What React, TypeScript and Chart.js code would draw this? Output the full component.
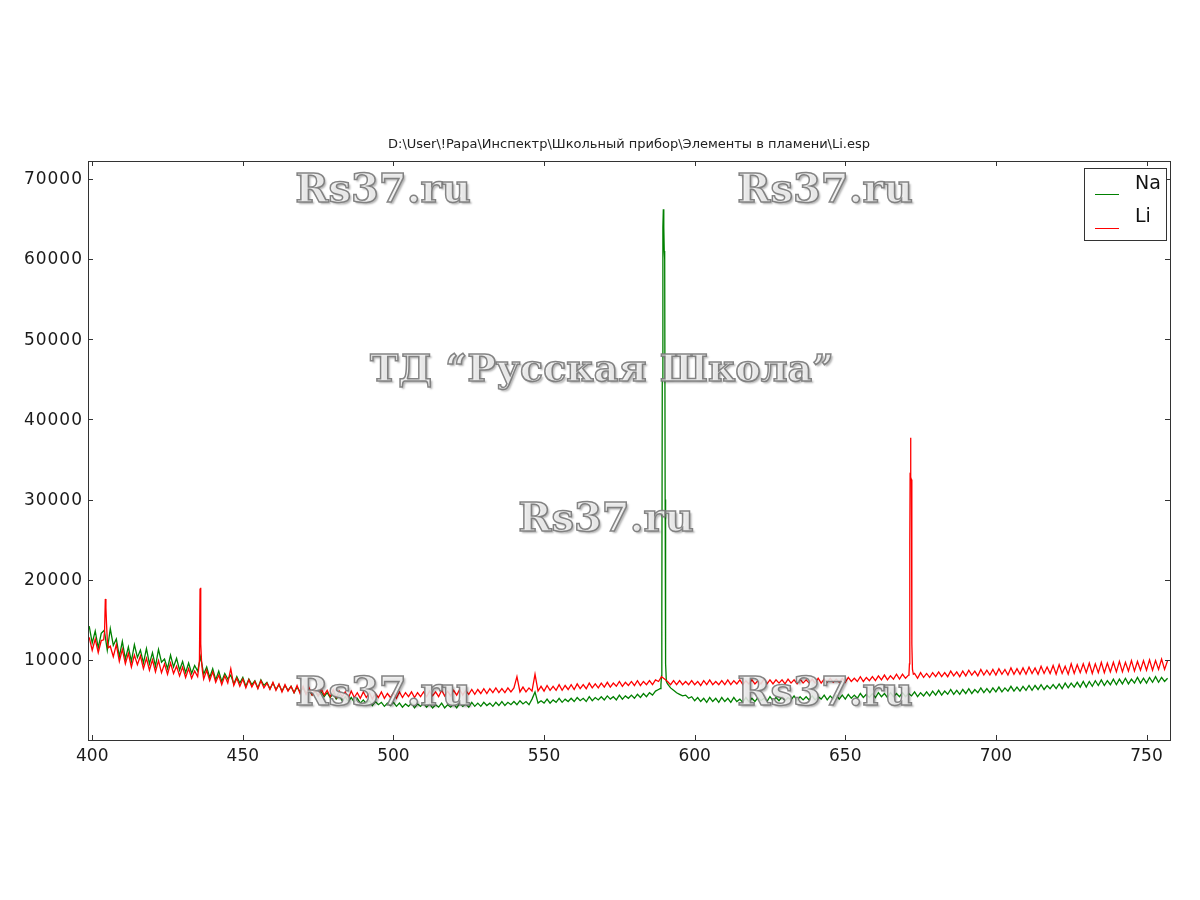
import React, { useEffect, useRef } from "react";
import { Chart, registerables } from "chart.js";

Chart.register(...registerables);

// ---------- text ----------
const TITLE = "D:\\User\\!Papa\\Инспектр\\Школьный прибор\\Элементы в пламени\\Li.esp";
const SERIES_NAMES = ["Na", "Li"];
const WATERMARK_SITE = "Rs37.ru";
const WATERMARK_SHOP = "ТД “Русская Школа”";

// ---------- axes ----------
const X_TICKS = [400, 450, 500, 550, 600, 650, 700, 750];
const Y_TICKS = [10000, 20000, 30000, 40000, 50000, 60000, 70000];
const X_MIN = 398.6;
const X_MAX = 757.8;
const Y_MIN = 0;
const Y_MAX = 72230;

// ---------- baseline spectra, one value per nm starting at 399 nm ----------
const WL_START = 399;
const WL_STEP = 1;

const NA_BASE: (number | null)[] = [
  /*399*/ 14200, 12100, 13600, 11500, 13300, 13700, 11200, 13900, 11800, 12600,
  /*409*/ 10400, 12300, 10100, 11600, 9800, 11900, 10300, 11200, 9600, 11400,
  /*419*/ 9500, 10900, 9200, 11300, 9700, 10100, 8900, 10600, 9100, 10200,
  /*429*/ 8700, 9800, 8400, 9600, 8300, 9300, 8600, 10400, 8200, 9100,
  /*439*/ 7800, 8900, 7500, 8600, 7300, 8300, 7600, 8100, 7000, 7900,
  /*449*/ 7100, 7800, 6700, 7600, 6900, 7400, 6500, 7500, 6800, 7200,
  /*459*/ 6400, 7100, 6300, 6900, 6100, 6800, 6200, 6700, 5900, 6600,
  /*469*/ 6000, 6500, 5800, 6300, 5600, 6100, 5500, 6000, 5400, 5900,
  /*479*/ 5300, 5800, 5100, 5600, 4900, 5400, 4800, 5300, 4700, 5200,
  /*489*/ 4600, 5000, 4500, 4900, 4300, 4800, 4400, 4700, 4200, 4600,
  /*499*/ 4300, 4700, 4200, 4600, 4100, 4500, 4200, 4600, 4000, 4500,
  /*509*/ 4200, 4600, 4100, 4500, 4000, 4400, 4100, 4600, 4000, 4400,
  /*519*/ 4100, 4500, 4000, 4600, 4200, 4500, 4100, 4700, 4200, 4600,
  /*529*/ 4200, 4700, 4300, 4600, 4200, 4700, 4300, 4800, 4300, 4700,
  /*539*/ 4400, 4800, 4400, 4900, 4500, 4800, 4400, 5100, 6000, 4600,
  /*549*/ 4900, 4600, 5100, 4600, 5000, 4700, 5200, 4700, 5100, 4800,
  /*559*/ 5200, 4800, 5300, 4900, 5200, 4800, 5400, 4900, 5300, 5000,
  /*569*/ 5400, 5000, 5500, 5100, 5400, 5000, 5600, 5100, 5500, 5200,
  /*579*/ 5600, 5200, 5700, 5300, 5800, 5400, 5900, 5600, 6100, 6300,
  /*589*/ null, null, 7000, 6500, 6200, 5900, 5700, 5500, 5600, 5200,
  /*599*/ 5400, 4900, 5300, 4800, 5200, 4700, 5300, 4800, 5200, 4700,
  /*609*/ 5300, 4800, 5200, 4700, 5300, 4800, 5100, 4700, 5300, 4800,
  /*619*/ 5200, 4800, 5300, 4900, 5200, 4800, 5400, 4900, 5300, 4900,
  /*629*/ 5400, 4900, 5300, 5000, 5500, 4900, 5400, 5000, 5400, 5000,
  /*639*/ 5500, 5000, 5400, 5100, 5600, 5000, 5500, 5100, 5600, 5100,
  /*649*/ 5600, 5100, 5700, 5200, 5600, 5200, 5800, 5300, 5700, 5300,
  /*659*/ 5800, 5300, 5900, 5400, 5800, 5300, 5900, 5400, 5800, 5400,
  /*669*/ 5900, 5400, 5800, 5500, 6000, 5400, 5900, 5500, 6000, 5500,
  /*679*/ 6100, 5600, 6200, 5600, 6100, 5700, 6300, 5700, 6200, 5700,
  /*689*/ 6300, 5800, 6400, 5800, 6300, 5900, 6500, 5900, 6400, 5900,
  /*699*/ 6500, 6000, 6600, 6000, 6500, 6100, 6700, 6100, 6600, 6100,
  /*709*/ 6700, 6200, 6800, 6200, 6800, 6300, 6900, 6300, 6800, 6400,
  /*719*/ 6900, 6400, 7000, 6400, 7100, 6500, 7100, 6600, 7200, 6600,
  /*729*/ 7300, 6600, 7300, 6700, 7400, 6800, 7500, 6800, 7400, 6900,
  /*739*/ 7600, 6900, 7600, 7000, 7700, 7000, 7600, 7100, 7800, 7100,
  /*749*/ 7700, 7100, 7800, 7200, 7900, 7200, 7800, 7300, 7700,
];

const LI_BASE: (number | null)[] = [
  /*399*/ 12800, 11200, 12600, 10900, 12400, null, null, 11700, 10400, 11900,
  /*409*/ 9800, 11300, 9500, 10800, 9100, 10600, 9400, 10500, 8900, 10200,
  /*419*/ 8700, 10000, 8500, 9900, 8400, 9500, 8200, 9600, 8300, 9200,
  /*429*/ 8000, 9100, 7800, 8900, 7700, 8600, 7900, null, 7600, 8700,
  /*439*/ 7400, 8500, 7200, 8100, 6900, 8000, 7100, 8900, 6800, 7700,
  /*449*/ 6700, 7600, 6500, 7500, 6600, 7300, 6400, 7400, 6500, 7100,
  /*459*/ 6300, 7200, 6200, 7000, 6000, 6900, 6100, 6700, 5900, 6800,
  /*469*/ 5800, 6700, 5700, 6500, 5600, 6300, 5500, 6400, 5600, 6200,
  /*479*/ 5400, 6300, 5300, 6100, 5400, 6000, 5200, 6100, 5300, 5900,
  /*489*/ 5200, 6000, 5300, 5900, 5100, 5800, 5300, 6000, 5200, 5800,
  /*499*/ 5300, 5900, 5200, 6000, 5300, 5900, 5400, 6000, 5300, 5900,
  /*509*/ 5400, 6000, 5400, 6100, 5500, 6000, 5400, 6200, 5500, 6100,
  /*519*/ 5500, 6200, 5600, 6300, 5600, 6200, 5700, 6300, 5700, 6300,
  /*529*/ 5800, 6400, 5800, 6400, 5900, 6500, 5900, 6400, 5900, 6500,
  /*539*/ 6000, 6500, 7900, 6000, 6600, 6000, 6500, 6100, 8200, 6100,
  /*549*/ 6700, 6100, 6800, 6200, 6700, 6200, 6900, 6200, 6800, 6300,
  /*559*/ 6900, 6300, 7000, 6400, 6900, 6400, 7100, 6500, 7000, 6500,
  /*569*/ 7100, 6600, 7200, 6600, 7100, 6700, 7300, 6700, 7200, 6800,
  /*579*/ 7300, 6800, 7400, 6800, 7300, 6900, 7400, 6900, 7500, 7300,
  /*589*/ 7900, 7600, 7300, 6900, 7400, 6900, 7400, 6900, 7300, 6900,
  /*599*/ 7400, 6900, 7300, 6800, 7400, 6900, 7500, 6900, 7300, 6900,
  /*609*/ 7400, 6900, 7500, 6900, 7400, 7000, 7500, 6900, 7400, 7000,
  /*619*/ 7500, 7000, 7400, 7000, 7600, 7000, 7500, 7000, 7500, 7100,
  /*629*/ 7500, 7000, 7600, 7100, 7500, 7000, 7600, 7100, 7500, 7100,
  /*639*/ 7600, 7100, 7700, 7100, 7600, 7200, 7700, 7200, 7600, 7200,
  /*649*/ 7700, 7200, 7800, 7300, 7700, 7300, 7900, 7300, 7800, 7400,
  /*659*/ 7900, 7400, 8000, 7500, 8100, 7500, 8000, 7600, 8200, 7600,
  /*669*/ 8200, 7700, 8100, null, 8300, 7700, 8400, 7800, 8300, 7800,
  /*679*/ 8400, 7900, 8500, 7900, 8400, 7900, 8600, 8000, 8500, 7900,
  /*689*/ 8600, 8000, 8700, 8100, 8600, 8000, 8800, 8100, 8700, 8100,
  /*699*/ 8800, 8100, 8900, 8200, 8800, 8100, 9000, 8200, 8900, 8200,
  /*709*/ 9000, 8200, 9100, 8300, 9000, 8200, 9200, 8300, 9100, 8300,
  /*719*/ 9300, 8200, 9400, 8300, 9200, 8200, 9500, 8300, 9400, 8400,
  /*729*/ 9500, 8400, 9600, 8300, 9500, 8400, 9700, 8400, 9600, 8500,
  /*739*/ 9700, 8500, 9800, 8500, 9700, 8600, 9900, 8600, 9800, 8700,
  /*749*/ 9900, 8700, 10000, 8700, 9900, 8800, 10100, 8800, 9900,
];

// ---------- emission lines, sampled finer ----------
const NA_D_X = [588.5, 588.8, 589.0, 589.1, 589.25, 589.45, 589.6, 589.75, 589.9, 590.05, 590.2, 590.35, 590.6];
const NA_D_Y = [6400, 6900, 8000, 16000, 45000, 64000, 66200, 64000, 61000, 60000, 30000, 9500, 7300];

const LI_K_X = [403.8, 404.1, 404.35, 404.55, 404.75, 405.0, 405.3];
const LI_K_Y = [12500, 13500, 17600, 16500, 14500, 12500, 11500];

const LI_HG_X = [435.3, 435.6, 435.8, 435.95, 436.1, 436.3, 436.6];
const LI_HG_Y = [8800, 10000, 18900, 19000, 12000, 9800, 8600];

const LI_LINE_X = [671.15, 671.3, 671.42, 671.52, 671.65, 671.8, 671.95, 672.1, 672.3, 672.6];
const LI_LINE_Y = [8300, 9500, 24500, 33000, 37700, 32800, 32500, 12000, 8800, 8200];

const NA_COLOR = "#008000";
const LI_COLOR = "#ff0000";

type Pt = { x: number; y: number };

function buildSeries(base: (number | null)[], lines: [number[], number[]][]): Pt[] {
  const pts: Pt[] = [];
  base.forEach((v, i) => {
    if (v !== null) pts.push({ x: WL_START + i * WL_STEP, y: v });
  });
  lines.forEach(([xs, ys]) => {
    xs.forEach((x, i) => pts.push({ x, y: ys[i] }));
  });
  pts.sort((a, b) => a.x - b.x);
  return pts;
}

const decorPlugin = {
  id: "decor",
  afterDatasetsDraw(chart: any) {
    const { ctx, chartArea } = chart;
    const { left, right, top, bottom } = chartArea;
    const xs = chart.scales.x;
    const ys = chart.scales.y;
    ctx.save();

    // watermarks
    const drawMark = (text: string, cx: number, cy: number, size: number) => {
      ctx.save();
      ctx.font = `bold ${size}px 'DejaVu Serif'`;
      ctx.textAlign = "center";
      ctx.textBaseline = "middle";
      ctx.shadowColor = "rgba(0,0,0,0.35)";
      ctx.shadowOffsetX = 2;
      ctx.shadowOffsetY = 2;
      ctx.shadowBlur = 2;
      ctx.fillStyle = "rgba(240,240,240,0.85)";
      ctx.fillText(text, cx, cy);
      ctx.shadowColor = "transparent";
      ctx.lineWidth = 1.5;
      ctx.strokeStyle = "rgba(120,120,120,0.9)";
      ctx.strokeText(text, cx, cy);
      ctx.restore();
    };
    drawMark(WATERMARK_SITE, 383, 192, 40);
    drawMark(WATERMARK_SITE, 825, 192, 40);
    drawMark(WATERMARK_SHOP, 602, 371, 38);
    drawMark(WATERMARK_SITE, 606, 521, 40);
    drawMark(WATERMARK_SITE, 383, 695, 40);
    drawMark(WATERMARK_SITE, 825, 695, 40);

    // frame
    ctx.strokeStyle = "#333333";
    ctx.lineWidth = 1;
    ctx.strokeRect(Math.round(left) + 0.5, Math.round(top) + 0.5, Math.round(right - left), Math.round(bottom - top));

    // ticks
    const TL = 5;
    ctx.beginPath();
    X_TICKS.forEach((v) => {
      const px = Math.round(xs.getPixelForValue(v)) + 0.5;
      ctx.moveTo(px, bottom);
      ctx.lineTo(px, bottom - TL);
      ctx.moveTo(px, top);
      ctx.lineTo(px, top + TL);
    });
    Y_TICKS.forEach((v) => {
      const py = Math.round(ys.getPixelForValue(v)) + 0.5;
      ctx.moveTo(left, py);
      ctx.lineTo(left + TL, py);
      ctx.moveTo(right, py);
      ctx.lineTo(right - TL, py);
    });
    ctx.stroke();

    // tick labels
    ctx.fillStyle = "#1a1a1a";
    ctx.font = "17px 'DejaVu Sans'";
    ctx.textAlign = "center";
    ctx.textBaseline = "alphabetic";
    X_TICKS.forEach((v) => {
      ctx.fillText(String(v), xs.getPixelForValue(v), bottom + 21);
    });
    ctx.font = "17px 'DejaVu Sans'";
    (ctx as any).letterSpacing = "1px";
    ctx.textAlign = "right";
    ctx.textBaseline = "middle";
    Y_TICKS.forEach((v) => {
      ctx.fillText(String(v), left - 5, ys.getPixelForValue(v) + 1);
    });
    (ctx as any).letterSpacing = "0px";

    // title
    ctx.font = "13px 'DejaVu Sans'";
    ctx.textAlign = "center";
    ctx.textBaseline = "middle";
    ctx.fillStyle = "#222222";
    ctx.fillText(TITLE, (left + right) / 2, 145);

    // legend
    const bx = 1084, by = 168, bw = 82, bh = 72;
    ctx.fillStyle = "#ffffff";
    ctx.fillRect(bx, by, bw, bh);
    ctx.strokeStyle = "#333333";
    ctx.strokeRect(bx + 0.5, by + 0.5, bw, bh);
    const entries = [
      { name: SERIES_NAMES[0], color: NA_COLOR, ly: 194, ty: 184 },
      { name: SERIES_NAMES[1], color: LI_COLOR, ly: 228, ty: 217 },
    ];
    ctx.font = "19px 'DejaVu Sans'";
    ctx.textAlign = "left";
    ctx.textBaseline = "middle";
    entries.forEach((e) => {
      ctx.strokeStyle = e.color;
      ctx.beginPath();
      ctx.moveTo(1095, e.ly + 0.5);
      ctx.lineTo(1119, e.ly + 0.5);
      ctx.stroke();
      ctx.fillStyle = "#111111";
      ctx.fillText(e.name, 1135, e.ty);
    });

    ctx.restore();
  },
};

export default function App() {
  const canvasRef = useRef<HTMLCanvasElement | null>(null);

  useEffect(() => {
    if (!canvasRef.current) return;
    const naPts = buildSeries(NA_BASE, [[NA_D_X, NA_D_Y]]);
    const liPts = buildSeries(LI_BASE, [[LI_K_X, LI_K_Y], [LI_HG_X, LI_HG_Y], [LI_LINE_X, LI_LINE_Y]]);
    const chart = new Chart(canvasRef.current, {
      type: "line",
      data: {
        datasets: [
          {
            label: SERIES_NAMES[0],
            data: naPts,
            borderColor: NA_COLOR,
            borderWidth: 1.3,
            pointRadius: 0,
            fill: false,
            tension: 0,
            order: 2,
          },
          {
            label: SERIES_NAMES[1],
            data: liPts,
            borderColor: LI_COLOR,
            borderWidth: 1.3,
            pointRadius: 0,
            fill: false,
            tension: 0,
            order: 1,
          },
        ],
      },
      options: {
        animation: false,
        responsive: false,
        maintainAspectRatio: false,
        parsing: false as any,
        normalized: true,
        layout: { padding: { left: 88, right: 30, top: 161, bottom: 160 } },
        plugins: {
          legend: { display: false },
          title: { display: false },
          tooltip: { enabled: false },
        },
        scales: {
          x: { type: "linear", display: false, min: X_MIN, max: X_MAX },
          y: { type: "linear", display: false, min: Y_MIN, max: Y_MAX },
        },
      },
      plugins: [decorPlugin],
    });
    return () => chart.destroy();
  }, []);

  return (
    <div style={{ position: "absolute", left: 0, top: 0, width: 1200, height: 900, background: "#ffffff" }}>
      <canvas ref={canvasRef} width={1200} height={900} style={{ width: 1200, height: 900, display: "block" }} />
    </div>
  );
}
